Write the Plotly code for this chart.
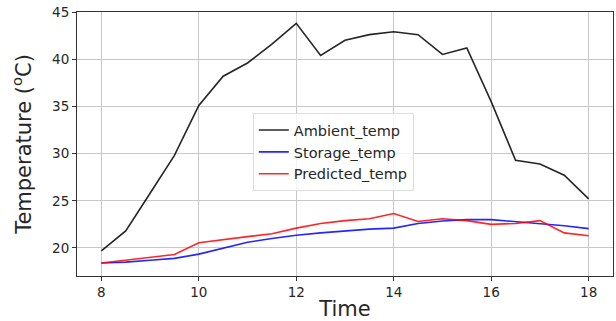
import plotly.graph_objects as go

time = [8, 8.5, 9, 9.5, 10, 10.5, 11, 11.5, 12, 12.5, 13, 13.5, 14, 14.5, 15, 15.5, 16, 16.5, 17, 17.5, 18]
ambient = [19.7, 21.8, 25.8, 29.8, 35.1, 38.2, 39.6, 41.6, 43.8, 40.4, 42.0, 42.6, 42.9, 42.6, 40.5, 41.2, 35.5, 29.3, 28.9, 27.7, 25.2]
storage = [18.4, 18.5, 18.7, 18.9, 19.35, 20.0, 20.6, 21.0, 21.35, 21.6, 21.8, 22.0, 22.1, 22.6, 22.85, 23.0, 23.0, 22.8, 22.6, 22.35, 22.05]
predicted = [18.4, 18.7, 19.0, 19.3, 20.55, 20.9, 21.2, 21.5, 22.1, 22.6, 22.9, 23.1, 23.65, 22.8, 23.1, 22.9, 22.5, 22.6, 22.9, 21.6, 21.3]

names = ["Ambient_temp", "Storage_temp", "Predicted_temp"]
colors = ["#000000", "#0000ff", "#ff0000"]

fig = go.Figure()
for name, vals, c in zip(names, [ambient, storage, predicted], colors):
    fig.add_trace(go.Scatter(x=time, y=vals, mode="lines", name=name,
                             line=dict(color=c, width=1.6), opacity=0.85))

axis_common = dict(showline=True, linecolor="#333333", linewidth=1, mirror=True,
                   showgrid=True, gridcolor="#c8c8c8", gridwidth=1,
                   ticks="outside", ticklen=4, tickcolor="#333333",
                   tickfont=dict(family="DejaVu Sans", size=13.5, color="#262626"),
                   zeroline=False, automargin=False, ticklabeloverflow="allow")

fig.update_layout(
    width=616, height=321,
    margin=dict(l=77, r=3, t=12, b=45),
    paper_bgcolor="white", plot_bgcolor="white",
    font=dict(family="DejaVu Sans", color="#262626"),
    showlegend=True,
    legend=dict(x=0.328, y=0.617, xanchor="left", yanchor="top",
                bgcolor="rgba(255,255,255,0.8)", bordercolor="#dddddd", borderwidth=1,
                font=dict(family="DejaVu Sans", size=14.5, color="#262626"),
                tracegroupgap=0, itemwidth=30),
    xaxis=dict(range=[7.5, 18.5], tickvals=[8, 10, 12, 14, 16, 18],
               title=dict(text="Time", font=dict(family="DejaVu Sans", size=21), standoff=4),
               **axis_common),
    yaxis=dict(range=[17.03, 45], tickvals=[20, 25, 30, 35, 40, 45],
               title=dict(text="Temperature (<sup>o</sup>C)", font=dict(family="DejaVu Sans", size=21), standoff=14),
               **axis_common),
)

# remove the browser's default 8px body margin so the figure fills the window
fig.write_html("out.html", config={"displayModeBar": False},
               post_script="document.body.style.margin='0';document.body.style.overflow='hidden';")
